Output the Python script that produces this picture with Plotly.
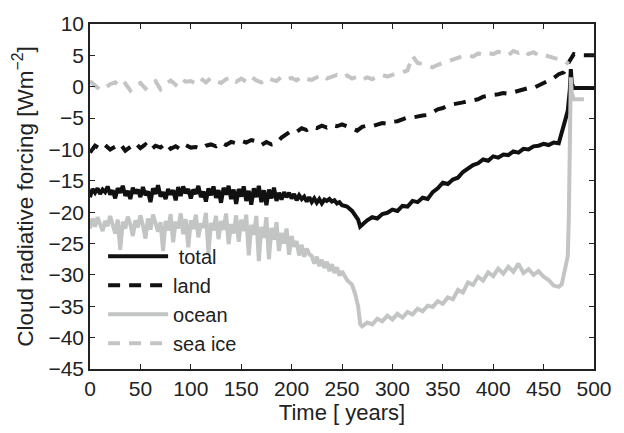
import numpy as np
import plotly.graph_objects as go

# ---------------- data ----------------
# early part of total / ocean sampled every 2.5 years (0 .. 247.5)
early_years = list(np.arange(0, 250, 2.5))

total_early = [
    -17.6, -16.3, -16.9, -16.2, -17.1, -16.4, -16.8, -15.9, -17.2, -16.5,
    -17.8, -16.2, -16.9, -15.8, -17.4, -16.6, -17.9, -16.1, -17.0, -16.4,
    -17.6, -16.0, -17.3, -16.7, -18.4, -16.2, -17.1, -15.7, -17.5, -16.8,
    -17.9, -16.3, -17.2, -16.5, -18.1, -16.0, -17.4, -15.9, -17.0, -16.3,
    -17.8, -16.4, -17.1, -15.8, -17.6, -16.7, -18.3, -16.2, -17.3, -15.9,
    -17.7, -16.5, -18.5, -16.1, -17.2, -15.8, -17.9, -16.4, -18.7, -16.3,
    -17.5, -15.9, -18.2, -16.6, -18.8, -16.2, -17.6, -15.8, -18.4, -16.5,
    -18.9, -16.4, -17.8, -16.1, -18.2, -16.9, -18.0, -16.8, -17.6, -16.9,
    -17.8, -17.1, -18.1, -17.3, -17.9, -17.5, -18.3, -17.6, -18.4, -17.8,
    -18.5, -17.9, -18.6, -18.0, -18.2, -17.9, -18.3, -18.1, -18.6, -18.4,
]

ocean_early = [
    -22.6, -21.0, -22.3, -20.8, -21.9, -23.0, -21.4, -22.2, -20.6, -21.8,
    -23.4, -21.2, -26.0, -21.5, -22.6, -20.7, -21.9, -23.8, -21.3, -22.4,
    -20.5, -22.1, -24.2, -21.0, -22.8, -20.4, -21.7, -23.1, -21.6, -26.2,
    -21.4, -22.9, -20.3, -24.8, -21.5, -22.6, -20.2, -23.5, -21.1, -25.6,
    -21.3, -22.7, -20.4, -24.0, -21.8, -22.5, -20.1, -26.6, -21.7, -22.9,
    -20.6, -24.3, -21.4, -22.8, -20.2, -25.1, -21.9, -23.4, -20.5, -24.7,
    -21.2, -23.0, -20.4, -26.9, -22.0, -23.6, -20.6, -27.8, -22.3, -24.1,
    -20.8, -27.5, -22.5, -24.4, -21.6, -26.2, -23.3, -25.0, -22.6, -26.8,
    -23.8, -25.5, -24.6, -26.9, -25.2, -27.1, -25.8, -26.7, -27.0, -28.2,
    -27.1, -28.6, -27.6, -28.9, -27.9, -29.4, -28.3, -29.7, -28.8, -30.1,
]

# later part (250 .. 500), irregular sampling around the final jump
late_years = ([250, 255, 260, 263, 266, 268, 270]
              + list(range(275, 466, 5))
              + [468, 470, 472, 474, 475, 476, 477, 478, 480, 485, 490, 495, 500])

total_late = [
    -18.9, -19.1, -19.8, -20.4, -21.2, -22.3, -22.0,
    -21.3, -20.8, -21.0, -20.3, -20.1, -19.6, -19.8, -19.0, -19.1, -18.2,
    -18.4, -17.7, -17.9, -16.8, -16.2, -15.3, -15.5, -14.8, -14.5, -13.6,
    -13.0, -12.5, -12.2, -11.6, -11.8, -11.1, -11.3, -10.8, -10.9, -10.3,
    -10.5, -9.9, -10.0, -9.5, -9.4, -9.1, -9.3, -8.9, -9.0,
    -7.5, -6.2, -5.0, -3.8, -2.5, -0.5, 2.8, 0.5, -0.2, -0.2, -0.3, -0.2, -0.2,
]

ocean_late = [
    -29.4, -30.8, -31.6, -33.0, -35.0, -37.8, -38.2,
    -37.6, -37.9, -37.0, -37.4, -36.5, -37.1, -36.2, -36.8, -35.9, -36.3,
    -35.4, -35.8, -34.9, -35.1, -34.2, -34.6, -33.6, -33.9, -32.4, -32.8,
    -31.2, -31.6, -30.3, -30.9, -29.6, -30.2, -29.0, -29.8, -28.7, -29.5,
    -28.2, -29.7, -29.1, -30.0, -29.4, -30.3, -30.8, -31.7, -31.9,
    -31.5, -29.8, -28.0, -27.0, -21.0, -6.0, 1.5, -1.0, -2.0, -2.0, -2.0, None, None,
]

# land every 5 years (0 .. 500)
land_years = list(range(0, 501, 5))
land = [
    -10.5, -9.4, -9.9, -9.3, -10.0, -9.5, -9.1, -10.2, -9.6, -9.0,
    -9.8, -9.2, -10.1, -9.4, -9.7, -9.0, -9.9, -9.5, -10.0, -9.3,
    -9.7, -9.6, -9.9, -9.4, -9.2, -9.5, -8.9, -9.3, -8.8, -9.0,
    -8.6, -8.9, -8.5, -8.7, -9.3, -8.8, -9.2, -9.0, -8.1, -7.6,
    -7.0, -7.2, -6.6, -6.9, -6.4, -6.6, -6.2, -6.5, -6.1, -6.3,
    -6.0, -6.3, -6.6, -7.0, -6.4, -6.2, -6.3, -6.0, -5.8, -5.9,
    -5.6, -5.5, -5.2, -4.9, -4.9, -4.7, -4.6, -4.5, -4.0, -3.6,
    -3.4, -3.0, -2.8, -2.7, -2.5, -2.3, -2.1, -2.0, -1.6, -1.4,
    -1.3, -1.2, -1.0, -1.1, -0.9, -0.6, -0.4, -0.2, -0.2, 0.2,
    0.6, 1.0, 1.4, 2.0, 2.3, 3.9, 5.2, 5.0, 5.0, 5.0,
    5.0,
]

# sea ice every 5 years (0 .. 475)
seaice_years = list(range(0, 476, 5))
seaice = [
    0.9, 0.2, -0.5, -0.2, 0.4, 0.7, -0.1, 0.5, -0.6, 0.2,
    0.6, -0.3, 0.5, 0.9, -0.4, 0.4, 1.0, 0.3, 1.3, 0.8,
    0.9, 0.5, 1.3, 0.7, 1.4, 0.9, 0.6, 1.2, 1.5, 0.8,
    1.3, 0.8, 1.6, 1.0, 0.7, 1.4, 1.1, 0.9, 1.6, 1.2,
    1.4, 1.0, 1.6, 1.2, 1.1, 1.5, 1.9, 1.3, 1.6, 1.9,
    1.5, 1.8, 1.3, 1.6, 1.1, 1.5, 1.2, 1.7, 1.9, 1.6,
    1.9, 2.2, 2.3, 2.6, 4.9, 3.8, 3.6, 3.4, 3.1, 3.5,
    3.8, 4.0, 4.4, 4.6, 4.9, 5.0, 4.8, 5.3, 5.1, 5.4,
    5.2, 5.6, 5.3, 5.0, 5.7, 5.4, 5.8, 5.2, 5.5, 5.0,
    5.1, 4.8, 4.6, 4.4, 4.2, 3.6,
]

x_ticks = list(range(0, 501, 50))
y_ticks = list(range(-45, 11, 5))

# ---------------- figure ----------------
BLACK = "#111111"
GRAY = "#c3c5c4"
TXT = "#222222"
FONT = "Liberation Sans, Arial, sans-serif"

fig = go.Figure()
fig.add_trace(go.Scatter(x=early_years + late_years, y=total_early + total_late,
                         mode="lines", name=" total",
                         line=dict(color=BLACK, width=4)))
fig.add_trace(go.Scatter(x=land_years, y=land, mode="lines", name="land",
                         line=dict(color=BLACK, width=4, dash="12px,9px")))
fig.add_trace(go.Scatter(x=early_years + late_years, y=ocean_early + ocean_late,
                         mode="lines", name="ocean",
                         line=dict(color=GRAY, width=4)))
fig.add_trace(go.Scatter(x=seaice_years, y=seaice, mode="lines", name="sea ice",
                         line=dict(color=GRAY, width=4, dash="12px,9px")))

axis_common = dict(showgrid=False, zeroline=False, showline=True, linecolor=TXT,
                   linewidth=1.5, mirror="allticks", ticks="inside", ticklen=5,
                   tickwidth=1.2, tickcolor=TXT,
                   tickfont=dict(family=FONT, size=21, color=TXT))

fig.update_layout(
    width=624, height=433,
    margin=dict(l=90, r=20, t=18, b=64),
    paper_bgcolor="white", plot_bgcolor="white",
    font=dict(family=FONT, size=21, color=TXT),
    xaxis=dict(range=[0, 500], tickvals=x_ticks,
               title=dict(text="Time [ years]", standoff=5,
                          font=dict(family=FONT, size=22, color=TXT)),
               **axis_common),
    yaxis=dict(range=[-45, 10], tickvals=y_ticks,
               title=dict(text="Cloud radiative forcing [Wm<sup>−2</sup>]", standoff=9,
                          font=dict(family=FONT, size=22.5, color=TXT)),
               **axis_common),
    showlegend=True,
    legend=dict(x=0.026, y=0.383, xanchor="left", yanchor="top",
                bgcolor="rgba(0,0,0,0)", borderwidth=0,
                font=dict(family=FONT, size=20, color=TXT),
                tracegroupgap=0, itemwidth=60),
)

fig.write_html("out.html")
